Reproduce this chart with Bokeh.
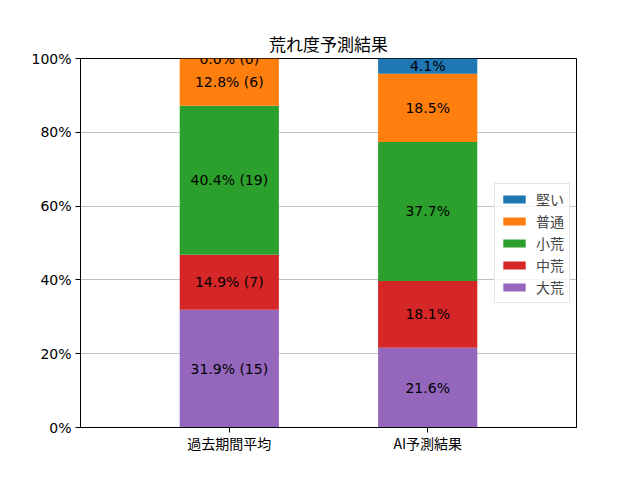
from bokeh.plotting import figure
from bokeh.models import ColumnDataSource, Label, Legend, LegendItem, Range1d, PrintfTickFormatter, FixedTicker
from bokeh.embed import file_html
from bokeh.resources import INLINE

categories = ["過去期間平均", "AI予測結果"]
keys = ["大荒", "中荒", "小荒", "普通", "堅い"]
daiare = [31.9, 21.6]
chuare = [14.9, 18.1]
shoare = [40.4, 37.7]
futsu = [12.8, 18.5]
katai = [0.0, 4.1]
past_counts = [15, 7, 19, 6, 0]
colors = ["#9467bd", "#d62728", "#2ca02c", "#ff7f0e", "#1f77b4"]
yticks = [0, 20, 40, 60, 80, 100]

JP = "Noto Sans CJK JP"
LAT = "DejaVu Sans"

series = [daiare, chuare, shoare, futsu, katai]
xpos = list(range(len(categories)))
data = {"x": xpos}
for k, s in zip(keys, series):
    data[k] = s
src = ColumnDataSource(data)

p = figure(x_range=Range1d(-0.75, len(categories) - 0.25),
           y_range=(0, 100), width=632, height=472, output_backend="svg", toolbar_location=None,
           min_border_left=80, min_border_right=56, min_border_top=58, min_border_bottom=45,
           title="荒れ度予測結果")
p.frame_width = 496
p.frame_height = 369

rs = p.vbar_stack(keys, x="x", width=0.5, color=colors, line_color=None, source=src)

# segment labels
for i, c in enumerate(categories):
    base = 0.0
    for j, s in enumerate(series):
        v = s[i]
        txt = f"{v:.1f}% ({past_counts[j]})" if i == 0 else f"{v:.1f}%"
        p.add_layout(Label(x=xpos[i], y=base + v / 2, text=txt, text_align="center", text_baseline="middle",
                           text_font=LAT, text_font_size="14px", text_color="black"))
        base += v

items = [LegendItem(label=k, renderers=[r]) for k, r in zip(keys, rs)][::-1]
legend = Legend(items=items, location="center_right", margin=6, padding=5,
                glyph_width=28, glyph_height=10, label_height=16, spacing=2,
                label_text_font=JP, label_text_font_size="14px", label_standoff=8,
                label_text_line_height=1.0,
                border_line_color="#cccccc", background_fill_alpha=0.8)
p.add_layout(legend)

p.title.align = "center"
p.title.text_font = JP
p.title.text_font_size = "17px"
p.title.text_font_style = "normal"
p.title.text_color = "black"
p.title.standoff = 5

p.outline_line_color = "black"
p.outline_line_alpha = 1
p.xgrid.grid_line_color = None
p.ygrid.grid_line_color = "#b0b0b0"
p.ygrid.grid_line_width = 0.8
p.xaxis.ticker = FixedTicker(ticks=xpos)
p.xaxis.major_label_overrides = {x: c for x, c in zip(xpos, categories)}
p.yaxis.ticker = FixedTicker(ticks=yticks)
p.yaxis.formatter = PrintfTickFormatter(format="%d%%")
for ax in (p.xaxis, p.yaxis):
    ax.axis_line_color = "black"
    ax.major_tick_line_color = "black"
    ax.major_tick_out = 5
    ax.major_tick_in = 0
    ax.minor_tick_line_color = None
    ax.major_label_text_font_size = "14px"
    ax.major_label_text_color = "black"
p.yaxis.major_label_standoff = 4
p.xaxis.major_label_standoff = 0
p.yaxis.major_label_text_font = LAT
p.xaxis.major_label_text_font = JP

open("out.html", "w").write(file_html(p, INLINE))
